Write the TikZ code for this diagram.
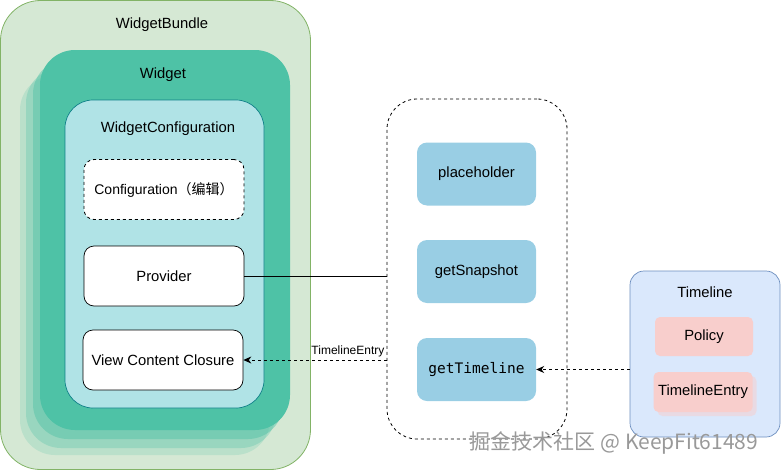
\documentclass[tikz,border=0pt]{standalone}
\usepackage{fontspec}
\setmainfont{Liberation Sans}
\setmonofont{DejaVu Sans Mono}
\newfontfamily\cjk{Noto Sans CJK SC}
\usetikzlibrary{arrows.meta}
\definecolor{bundlefill}{HTML}{D5E8D4}
\definecolor{bundleline}{HTML}{82B366}
\definecolor{widgetfill}{HTML}{4EC2A6}
\definecolor{cfgfill}{HTML}{B0E3E6}
\definecolor{cfgline}{HTML}{0E8088}
\definecolor{methfill}{HTML}{99CEE4}
\definecolor{tlfill}{HTML}{DAE8FC}
\definecolor{tlline}{HTML}{6C8EBF}
\definecolor{pinkfill}{HTML}{F8CECC}
\begin{document}
\begin{tikzpicture}[x=1pt,y=-1pt,
  every node/.style={font=\fontsize{14.8}{17}\selectfont, inner sep=0pt},
  layerbox/.style={fill=widgetfill, rounded corners=35pt, minimum width=250pt, minimum height=380pt},
  whitebox/.style={draw=black, fill=white, rounded corners=10pt, minimum width=160pt, minimum height=60pt, line width=0.7pt},
  methbox/.style={fill=methfill, rounded corners=10pt, minimum width=119pt, minimum height=63pt},
  pinkbox/.style={fill=pinkfill, rounded corners=5pt, minimum width=98pt, minimum height=39pt},
  dashline/.style={dash pattern=on 3pt off 3pt, line width=0.8pt},
  tip/.style={-{Stealth[length=8pt,width=7pt]}}
]
\useasboundingbox (0,0) rectangle (781,471);
% WidgetBundle
\node[draw=bundleline, fill=bundlefill, rounded corners=40pt, minimum width=310pt, minimum height=469pt, line width=0.8pt] (bundle) at (155.5,235) {};
\node (bundlelbl) at (162,25) {WidgetBundle};
% Widget stack
\node[layerbox, fill opacity=0.2] (layerc) at (145,265) {};
\node[layerbox, fill opacity=0.3] (layerb) at (151,258) {};
\node[layerbox, fill opacity=0.45] (layera) at (158,249) {};
\node[layerbox] (widget) at (165,240) {};
\node (widgetlbl) at (163,75) {Widget};
% WidgetConfiguration
\node[draw=cfgline, fill=cfgfill, rounded corners=28pt, minimum width=199pt, minimum height=308pt, line width=0.7pt] (wcfg) at (164.5,254) {};
\node (wcfglbl) at (168,129) {WidgetConfiguration};
\node[whitebox, dashline] (config) at (164,189.5) {\fontsize{14}{16}\selectfont Configuration\cjk{（编辑）}};
\node[whitebox] (prov) at (164,276) {Provider};
\node[whitebox] (vcc) at (163,360) {View Content Closure};
% Provider container
\node[draw=black, dashline, rounded corners=30pt, minimum width=180pt, minimum height=340pt] (cont) at (477,269) {};
\node[methbox] (ph) at (476.5,174) {placeholder};
\node[methbox] (gs) at (476.5,271.5) {getSnapshot};
\node[methbox] (gtl) at (476.5,369.5) {\ttfamily\fontsize{14.5}{16}\selectfont getTimeline};
% Timeline
\node[draw=tlline, fill=tlfill, rounded corners=14pt, minimum width=150pt, minimum height=166pt, line width=0.7pt] (tl) at (705,354) {};
\node (tllbl) at (705,292) {Timeline};
\node[pinkbox] (policy) at (704,336.5) {Policy};
\node[pinkbox, fill opacity=0.5, minimum width=99pt, minimum height=40pt] (tleshadow) at (707,396) {};
\node[pinkbox, minimum width=99pt, minimum height=40pt] (tle) at (703,392) {TimelineEntry};
% connectors
\draw[line width=0.8pt] (prov.east) -- (prov.east -| cont.west);
\draw[dashline, tip] (vcc.east -| cont.west) -- node[pos=0.27, above, inner sep=3pt, font=\fontsize{12}{14}\selectfont] (tlelbl) {TimelineEntry} (vcc.east);
\draw[dashline, tip] (gtl.east -| tl.west) -- (gtl.east);
% watermark
\node[text=black!40] (wm) at (614,443) {\fontsize{21}{24}\selectfont\cjk{掘金技术社区} @ KeepFit61489};
\end{tikzpicture}
\end{document}
